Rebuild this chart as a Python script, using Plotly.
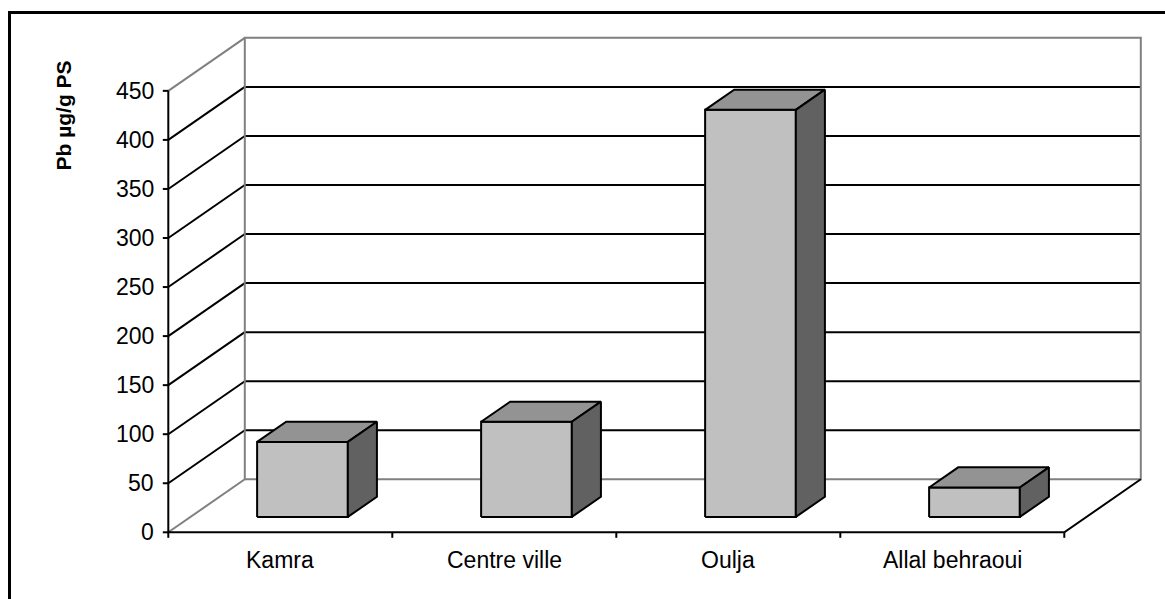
import plotly.graph_objects as go

# ---------------- data ----------------
categories = ["Kamra", "Centre ville", "Oulja", "Allal behraoui"]
values = [76.5, 97, 415, 30]
tick_values = [0, 50, 100, 150, 200, 250, 300, 350, 400, 450]
tick_labels = ["0", "50", "100", "150", "200", "250", "300", "350", "400", "450"]
axis_title = "Pb µg/g PS"

# ---------------- geometry / style ----------------
W, H = 1165, 599
X0_PX, CAT_PX = 168.3, 224.0        # front-left corner x, pixels per category
Y0_PX, VAL_PX = 532.3, 0.981        # front zero line y, pixels per unit
DEPTH_PX = (76.5, 53.0)             # oblique depth offset in pixels
DX = DEPTH_PX[0] / CAT_PX
DY = DEPTH_PX[1] / VAL_PX
XR = [-0.5 - X0_PX / CAT_PX, -0.5 + (W - X0_PX) / CAT_PX]
YR = [(Y0_PX - H) / VAL_PX, Y0_PX / VAL_PX]

BAR_W = 0.405
D0, D1 = 0.29, 0.67
FRONT, TOP, SIDE = "#c0c0c0", "#939393", "#616161"
GRAY = "#808080"
FONT = "Liberation Sans, Arial, sans-serif"

n = len(categories)
x_lo, x_hi = -0.5, n - 0.5
vmax = tick_values[-1]


def P(x, v, d=0.0):
    return x + DX * d, v + DY * d


def seg_trace(segs, color, width):
    xs, ys = [], []
    for seg in segs:
        for (x, y) in seg:
            xs.append(x)
            ys.append(y)
        xs.append(None)
        ys.append(None)
    return go.Scatter(x=xs, y=ys, mode="lines", line=dict(color=color, width=width),
                      hoverinfo="skip", showlegend=False)


fig = go.Figure()

# black gridlines (back wall + left wall)
grid = []
for v in tick_values[1:-1]:
    grid.append([P(x_lo, v, 1), P(x_hi, v, 1)])
    grid.append([P(x_lo, v, 0), P(x_lo, v, 1)])
fig.add_trace(seg_trace(grid, "black", 2))

# gray wall borders
walls = [
    [P(x_lo, 0, 1), P(x_hi, 0, 1), P(x_hi, vmax, 1), P(x_lo, vmax, 1), P(x_lo, 0, 1)],
    [P(x_lo, 0, 0), P(x_lo, 0, 1)],
    [P(x_lo, vmax, 0), P(x_lo, vmax, 1)],
]
fig.add_trace(seg_trace(walls, GRAY, 2))

# axes and ticks
tl_x = 5.5 / CAT_PX
tl_v = 5.5 / VAL_PX
axes = [[P(x_lo, vmax, 0), P(x_lo, 0, 0), P(x_hi, 0, 0), P(x_hi, 0, 1)]]
for v in tick_values:
    axes.append([(x_lo - tl_x, v), (x_lo, v)])
for k in range(n + 1):
    axes.append([(x_lo + k, 0), (x_lo + k, -tl_v)])
fig.add_trace(seg_trace(axes, "black", 2))

# 3D bars
for i, v in enumerate(values):
    xa, xb = i - BAR_W / 2, i + BAR_W / 2
    faces = [
        ([P(xa, 0, D0), P(xb, 0, D0), P(xb, v, D0), P(xa, v, D0)], FRONT),
        ([P(xa, v, D0), P(xb, v, D0), P(xb, v, D1), P(xa, v, D1)], TOP),
        ([P(xb, 0, D0), P(xb, 0, D1), P(xb, v, D1), P(xb, v, D0)], SIDE),
    ]
    for pts, col in faces:
        xs = [p[0] for p in pts] + [pts[0][0]]
        ys = [p[1] for p in pts] + [pts[0][1]]
        fig.add_trace(go.Scatter(x=xs, y=ys, mode="lines", fill="toself", fillcolor=col,
                                 line=dict(color="black", width=2), hoverinfo="skip",
                                 showlegend=False))

annotations = []
for v, lab in zip(tick_values, tick_labels):
    annotations.append(dict(x=x_lo - 12 / CAT_PX, y=v, text=lab, showarrow=False,
                            xanchor="right", yanchor="middle",
                            font=dict(family=FONT, size=23, color="black")))
for i, c in enumerate(categories):
    annotations.append(dict(x=i, y=-28 / VAL_PX, text=c, showarrow=False,
                            xanchor="center", yanchor="middle",
                            font=dict(family=FONT, size=23, color="black")))
annotations.append(dict(xref="paper", yref="paper", x=63 / W, y=1 - 115.5 / H,
                        text="<b>" + axis_title + "</b>", textangle=-90, showarrow=False,
                        xanchor="center", yanchor="middle",
                        font=dict(family=FONT, size=21, color="black")))

fig.update_layout(
    width=W, height=H, autosize=False,
    margin=dict(l=0, r=0, t=0, b=0, pad=0),
    paper_bgcolor="white", plot_bgcolor="white",
    xaxis=dict(range=XR, visible=False, fixedrange=True),
    yaxis=dict(range=YR, visible=False, fixedrange=True),
    annotations=annotations,
    hovermode=False,
    shapes=[dict(type="rect", xref="paper", yref="paper",
                 x0=9.5 / W, x1=1.2, y0=-0.2, y1=1 - 12.5 / H,
                 line=dict(color="black", width=3), layer="above")],
)

fig.write_html("out.html", config={"displayModeBar": False, "staticPlot": True},
               post_script="document.body.style.margin='0';document.body.style.overflow='hidden';")
